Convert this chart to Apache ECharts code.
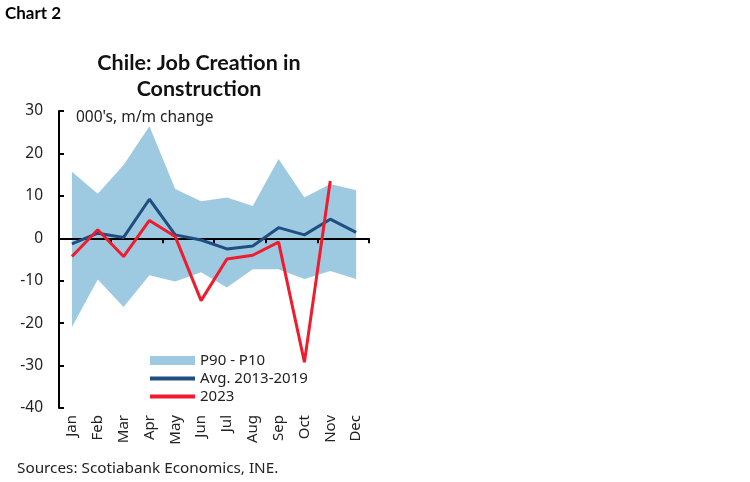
<!DOCTYPE html>
<html><head><meta charset="utf-8">
<script src="https://cdn.jsdelivr.net/npm/echarts@6/dist/echarts.min.js"></script>
<style>html,body{margin:0;padding:0;background:#fff}#c{width:750px;height:482px}</style>
</head><body><div id="c"></div>
<script>
const months = ['Jan','Feb','Mar','Apr','May','Jun','Jul','Aug','Sep','Oct','Nov','Dec'];
const p90 = [15.7, 10.5, 17.3, 26.4, 11.6, 8.7, 9.6, 7.6, 18.7, 9.6, 12.8, 11.3];
const p10 = [-20.9, -9.7, -16.2, -8.7, -10.2, -8.0, -11.6, -7.3, -7.3, -9.6, -7.7, -9.6];
const avg2013_2019 = [-1.3, 1.2, 0.2, 9.2, 0.8, -0.4, -2.5, -1.8, 2.5, 0.8, 4.5, 1.4];
const y2023 = [-4.3, 2.0, -4.3, 4.2, 0.4, -14.7, -4.9, -4.0, -0.9, -29.2, 13.5, null];
const yTicks = {min: -40, max: 30, interval: 10};

const bandWidth = p90.map((v, i) => +(v - p10[i]).toFixed(2));
const FONT = 'Noto Sans';
const chart = echarts.init(document.getElementById('c'), null, {renderer: 'canvas'});
const lineIcon = 'path://M0,0 H45 V4 H0 Z';
chart.setOption({
  animation: false,
  textStyle: {fontFamily: FONT},
  grid: {left: 59, right: 381, top: 111, bottom: 74},
  graphic: [
    {type: 'text', left: 5, top: 5, style: {text: 'Chart 2', font: 'bold 17px Lato', fill: '#000'}},
    {type: 'text', style: {x: 199, y: 63, text: 'Chile: Job Creation in', textAlign: 'center', textVerticalAlign: 'middle', font: 'bold 21.5px Lato', fill: '#111'}},
    {type: 'text', style: {x: 199, y: 89, text: 'Construction', textAlign: 'center', textVerticalAlign: 'middle', font: 'bold 21.5px Lato', fill: '#111'}},
    {type: 'text', style: {x: 76, y: 118, text: "000's, m/m change", textVerticalAlign: 'middle', font: '15.5px "Noto Sans"', fill: '#222'}},
    {type: 'text', style: {x: 17, y: 469, text: 'Sources: Scotiabank Economics, INE.', textVerticalAlign: 'middle', font: '15.3px "Noto Sans"', fill: '#222'}}
  ],
  legend: {
    orient: 'vertical', left: 145, top: 348, itemWidth: 45, itemHeight: 9, itemGap: 3,
    textStyle: {fontSize: 15, color: '#222', fontFamily: FONT},
    data: [
      {name: 'P90 - P10', icon: 'rect'},
      {name: 'Avg. 2013-2019', icon: lineIcon},
      {name: '2023', icon: lineIcon}
    ]
  },
  xAxis: [
    {type: 'category', data: months, boundaryGap: true, position: 'bottom',
     axisLine: {show: false, onZero: false}, axisTick: {show: false},
     axisLabel: {rotate: 90, fontSize: 15, color: '#222', margin: 7, fontFamily: FONT}},
    {type: 'category', data: months, boundaryGap: true, position: 'bottom', z: 3,
     axisLine: {show: true, onZero: true, lineStyle: {color: '#000', width: 2}},
     axisTick: {show: true, inside: false, length: 5, alignWithLabel: false, lineStyle: {color: '#000', width: 2}},
     axisLabel: {show: false}}
  ],
  yAxis: {
    type: 'value', min: yTicks.min, max: yTicks.max, interval: yTicks.interval,
    axisLine: {show: true, lineStyle: {color: '#000', width: 2}},
    axisTick: {show: true, inside: true, length: 5, lineStyle: {color: '#000', width: 2}},
    splitLine: {show: false},
    axisLabel: {fontSize: 15.5, color: '#222', margin: 16, fontFamily: FONT}
  },
  series: [
    {name: 'P10', type: 'line', data: p10, stack: 'band', stackStrategy: 'all',
     symbol: 'none', lineStyle: {opacity: 0}, silent: true, z: 1},
    {name: 'P90 - P10', type: 'line', data: bandWidth, stack: 'band', stackStrategy: 'all',
     symbol: 'none', lineStyle: {opacity: 0}, itemStyle: {color: '#9ECAE1'},
     areaStyle: {color: '#9ECAE1', opacity: 1}, z: 1},
    {name: 'Avg. 2013-2019', type: 'line', data: avg2013_2019, symbol: 'none',
     lineStyle: {color: '#1F4E80', width: 3}, itemStyle: {color: '#1F4E80'}, z: 5},
    {name: '2023', type: 'line', data: y2023, symbol: 'none',
     lineStyle: {color: '#EE1C2E', width: 3}, itemStyle: {color: '#EE1C2E'}, z: 6}
  ]
});
</script></body></html>
